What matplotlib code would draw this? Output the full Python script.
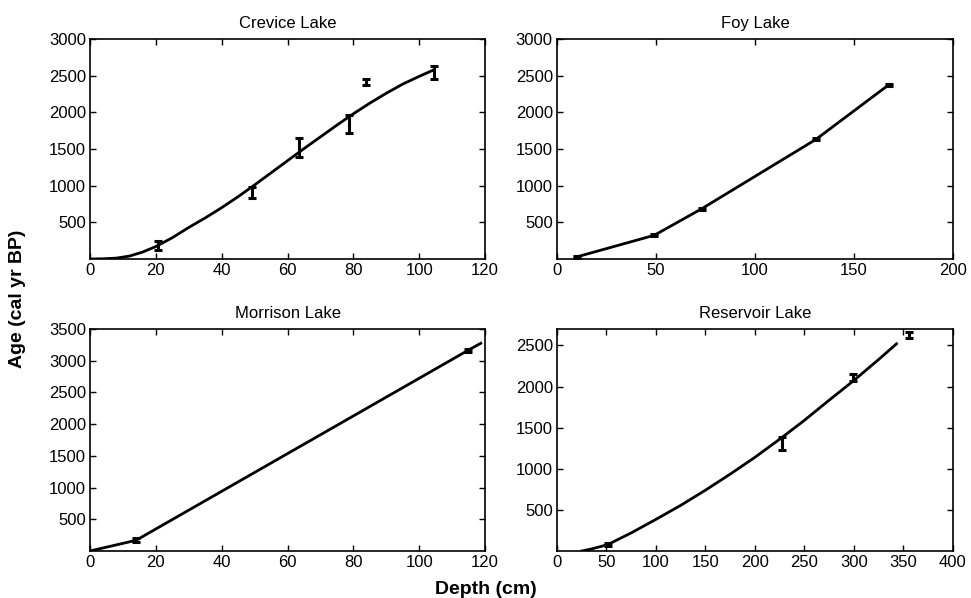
import matplotlib
matplotlib.use("Agg")
import matplotlib.pyplot as plt

plt.rcParams["font.family"] = ["Liberation Sans", "DejaVu Sans"]
plt.rcParams["font.size"] = 12

# Crevice Lake
crevice_depth = [20.6, 49.3, 63.4, 78.8, 83.8, 104.4]
crevice_age = [185, 905, 1520, 1845, 2415, 2540]
crevice_err = [60, 72, 125, 125, 40, 85]
crevice_curve_depth = [0, 4, 8, 12, 16, 20, 25, 30, 35, 40, 45, 50, 55, 60, 65, 70,
                       75, 80, 85, 90, 95, 100, 104]
crevice_curve_age = [0, 3, 12, 40, 95, 170, 290, 430, 560, 700, 850, 1010, 1175, 1340,
                     1505, 1665, 1825, 1980, 2125, 2260, 2385, 2490, 2570]

# Foy Lake
foy_depth = [10.3, 49.2, 73.1, 130.8, 167.7]
foy_age = [31, 324, 685, 1631, 2378]
foy_err = [15, 15, 15, 15, 15]

# Morrison Lake
morrison_depth = [14.0, 114.7]
morrison_age = [169, 3160]
morrison_err = [30, 30]
morrison_curve_depth = [0, 14.0, 114.7, 118.7]
morrison_curve_age = [0, 169, 3160, 3275]

# Reservoir Lake
reservoir_depth = [51.8, 227, 299.3, 355.6]
reservoir_age = [82, 1307, 2110, 2625]
reservoir_err = [20, 75, 45, 40]
reservoir_curve_depth = [25, 35, 45, 52, 75, 100, 125, 150, 175, 200, 225, 250, 275,
                         300, 325, 343]
reservoir_curve_age = [0, 25, 57, 82, 220, 385, 555, 740, 935, 1140, 1360, 1590, 1835,
                       2075, 2330, 2520]

panels = [
    ("Crevice Lake", [0.0927, 0.5669, 0.4068, 0.3679], (0, 120), (0, 3000),
     list(range(0, 121, 20)), list(range(500, 3001, 500)),
     crevice_curve_depth, crevice_curve_age, crevice_depth, crevice_age, crevice_err),
    ("Foy Lake", [0.5736, 0.5669, 0.4078, 0.3679], (0, 200), (0, 3000),
     list(range(0, 201, 50)), list(range(500, 3001, 500)),
     foy_depth, foy_age, foy_depth, foy_age, foy_err),
    ("Morrison Lake", [0.0927, 0.0786, 0.4068, 0.3712], (0, 120), (0, 3500),
     list(range(0, 121, 20)), list(range(500, 3501, 500)),
     morrison_curve_depth, morrison_curve_age, morrison_depth, morrison_age, morrison_err),
    ("Reservoir Lake", [0.5736, 0.0786, 0.4078, 0.3712], (0, 400), (0, 2700),
     list(range(0, 401, 50)), list(range(500, 2501, 500)),
     reservoir_curve_depth, reservoir_curve_age, reservoir_depth, reservoir_age, reservoir_err),
]

fig = plt.figure(figsize=(9.71, 5.98), dpi=100)

for title, pos, xlim, ylim, xt, yt, cx, cy, dx, dy, de in panels:
    ax = fig.add_axes(pos)
    ax.plot(cx, cy, color="black", lw=2)
    ax.errorbar(dx, dy, yerr=de, fmt="none", ecolor="black", elinewidth=2.2,
                capsize=3, capthick=2.2)
    ax.set_xlim(*xlim)
    ax.set_ylim(*ylim)
    ax.set_xticks(xt)
    ax.set_yticks(yt)
    ax.tick_params(direction="in", top=True, right=True, length=4, width=1,
                   labelsize=12, pad=3)
    for s in ax.spines.values():
        s.set_linewidth(1.2)
    ax.set_title(title, fontsize=12, pad=8)

fig.text(0.018, 0.5, "Age (cal yr BP)", rotation=90, va="center", ha="center",
         fontsize=14, fontweight="bold")
fig.text(0.5, 0.015, "Depth (cm)", va="center", ha="center",
         fontsize=14, fontweight="bold")

fig.savefig("out.png", dpi=100)
